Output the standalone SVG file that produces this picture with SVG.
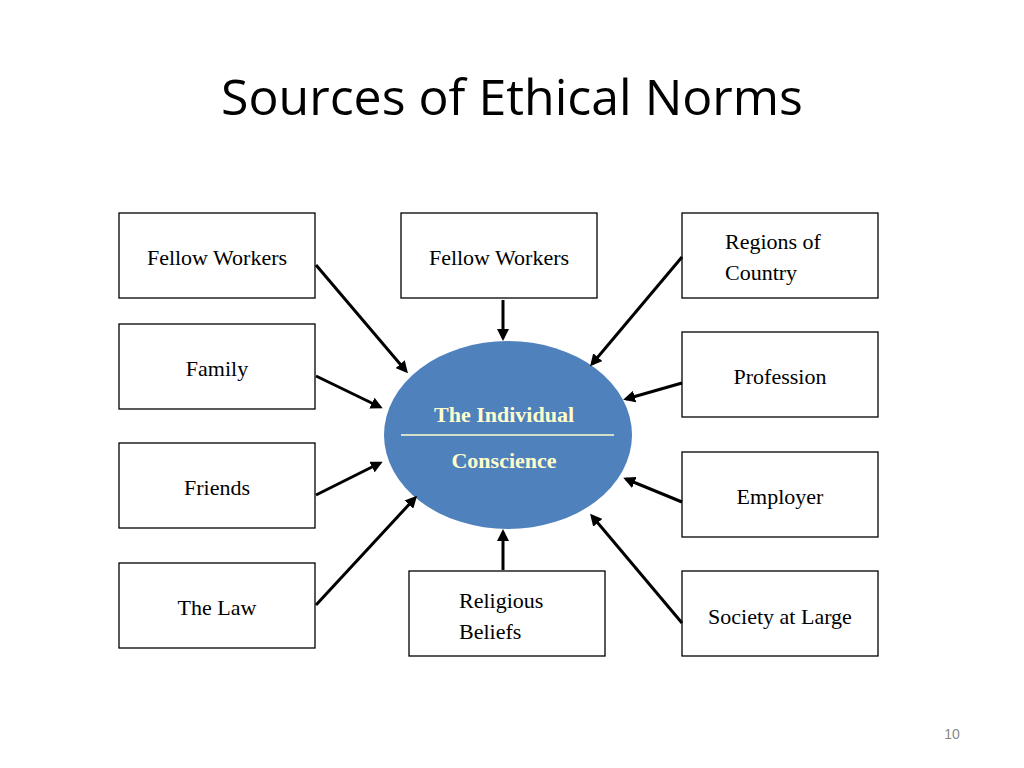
<svg xmlns="http://www.w3.org/2000/svg" width="1024" height="768" viewBox="0 0 1024 768">
<style>
.b{fill:#fff;stroke:#000;stroke-width:1.3}
.t{font-family:"Liberation Serif",serif;font-size:22px;fill:#000}
.c{stroke:#000;stroke-width:3;fill:none;marker-end:url(#a)}
.e{font-family:"Liberation Serif",serif;font-size:22px;font-weight:bold;fill:#FFFFCC;text-anchor:middle}
</style>
<defs><marker id="a" markerWidth="4" markerHeight="4" refX="3" refY="2" orient="auto"><path d="M0,0L4,2L0,4Z" fill="#000"/></marker></defs>
<rect width="1024" height="768" fill="#fff"/>
<text x="512" y="115" text-anchor="middle" font-family="Open Sans,Liberation Sans,sans-serif" font-size="50" fill="#000">Sources of Ethical Norms</text>
<g id="n1"><rect class="b" x="119" y="213" width="196" height="85"/><text class="t" x="217" y="265" text-anchor="middle">Fellow Workers</text></g>
<g id="n2"><rect class="b" x="401" y="213" width="196" height="85"/><text class="t" x="499" y="265" text-anchor="middle">Fellow Workers</text></g>
<g id="n3"><rect class="b" x="682" y="213" width="196" height="85"/><text class="t" x="725" y="249">Regions of</text><text class="t" x="725" y="280">Country</text></g>
<g id="n4"><rect class="b" x="119" y="324" width="196" height="85"/><text class="t" x="217" y="376" text-anchor="middle">Family</text></g>
<g id="n5"><rect class="b" x="682" y="332" width="196" height="85"/><text class="t" x="780" y="384" text-anchor="middle">Profession</text></g>
<g id="n6"><rect class="b" x="119" y="443" width="196" height="85"/><text class="t" x="217" y="495" text-anchor="middle">Friends</text></g>
<g id="n7"><rect class="b" x="682" y="452" width="196" height="85"/><text class="t" x="780" y="504" text-anchor="middle">Employer</text></g>
<g id="n8"><rect class="b" x="119" y="563" width="196" height="85"/><text class="t" x="217" y="615" text-anchor="middle">The Law</text></g>
<g id="n9"><rect class="b" x="409" y="571" width="196" height="85"/><text class="t" x="459" y="608">Religious</text><text class="t" x="459" y="639">Beliefs</text></g>
<g id="n10"><rect class="b" x="682" y="571" width="196" height="85"/><text class="t" x="780" y="624" text-anchor="middle">Society at Large</text></g>
<g id="center"><ellipse cx="508" cy="435" rx="124" ry="94" fill="#4F81BD"/><line x1="401" y1="435" x2="614" y2="435" stroke="#FFFFCC" stroke-width="1.5"/><text class="e" x="504" y="422">The Individual</text><text class="e" x="504" y="468">Conscience</text></g>
<g id="connectors">
<line class="c" x1="316" y1="265" x2="406" y2="371"/>
<line class="c" x1="503" y1="300" x2="503" y2="338"/>
<line class="c" x1="682" y1="257" x2="592" y2="364"/>
<line class="c" x1="316" y1="376" x2="380" y2="407"/>
<line class="c" x1="682" y1="383" x2="626" y2="399"/>
<line class="c" x1="316" y1="495" x2="380" y2="463"/>
<line class="c" x1="682" y1="502" x2="626" y2="479"/>
<line class="c" x1="316" y1="605" x2="415" y2="498"/>
<line class="c" x1="503" y1="570" x2="503" y2="532"/>
<line class="c" x1="682" y1="623" x2="592" y2="516"/>
</g>
<text x="952" y="739" text-anchor="middle" font-family="Liberation Sans,sans-serif" font-size="14" fill="#888">10</text>
</svg>
